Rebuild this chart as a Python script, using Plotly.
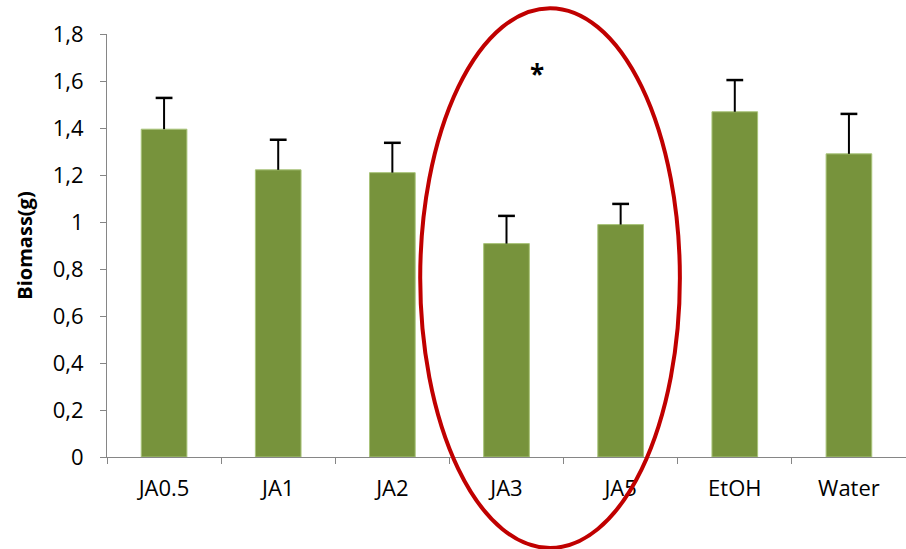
import plotly.graph_objects as go

categories = ["JA0.5", "JA1", "JA2", "JA3", "JA5", "EtOH", "Water"]
biomass = [1.395, 1.222, 1.21, 0.908, 0.989, 1.469, 1.29]
errors = [0.133, 0.128, 0.127, 0.118, 0.088, 0.135, 0.17]
ytick_vals = [0, 0.2, 0.4, 0.6, 0.8, 1.0, 1.2, 1.4, 1.6, 1.8]
ytick_text = ["0", "0,2", "0,4", "0,6", "0,8", "1", "1,2", "1,4", "1,6", "1,8"]

FONT = "Open Sans, Lato, sans-serif"

fig = go.Figure()
fig.add_trace(go.Bar(
    x=categories, y=biomass,
    marker=dict(color="#77933C", line=dict(color="#A9C47A", width=1)),
    width=0.4,
    error_y=dict(type="data", array=errors, symmetric=False, arrayminus=[0]*len(errors),
                 color="black", thickness=2, width=0, visible=True),
))
# caps on top of error bars only
fig.add_trace(go.Scatter(
    x=categories, y=[b + e for b, e in zip(biomass, errors)],
    mode="markers", hoverinfo="skip",
    marker=dict(symbol="line-ew-open", size=12, color="black",
                line=dict(color="black", width=2.5)),
))

axis_col = "#868686"
fig.update_layout(
    width=906, height=549,
    margin=dict(l=107, r=0, t=34, b=92),
    plot_bgcolor="white", paper_bgcolor="white",
    showlegend=False,
    font=dict(family=FONT, size=22, color="black"),
    xaxis=dict(
        type="category", showgrid=False, showline=True, linecolor=axis_col, linewidth=1,
        ticks="outside", tickson="boundaries", ticklen=6, tickcolor=axis_col,
        tickfont=dict(size=22, family=FONT), range=[-0.5, 6.5], ticklabelstandoff=12,
    ),
    yaxis=dict(
        range=[0, 1.8], showgrid=False, zeroline=False, showline=True, linecolor=axis_col,
        linewidth=1, ticks="outside", ticklen=6, tickcolor=axis_col,
        tickvals=ytick_vals, ticktext=ytick_text, tickfont=dict(size=22, family=FONT),
        ticklabelstandoff=12,
        title=dict(text="<b>Biomass(g)</b>", font=dict(size=20, family=FONT), standoff=14),
    ),
)

# red ellipse highlighting JA3 / JA5
fig.add_shape(type="circle", xref="paper", yref="paper",
              x0=0.392, x1=0.717, y0=-0.215, y1=1.061,
              line=dict(color="#C00000", width=4), layer="above")

fig.add_annotation(text="<b>*</b>", xref="paper", yref="paper", x=0.538, y=0.952,
                   showarrow=False, font=dict(size=26, family=FONT, color="black"))

fig.write_html("out.html", config={"displayModeBar": False},
               post_script="document.body.style.margin='0';")
